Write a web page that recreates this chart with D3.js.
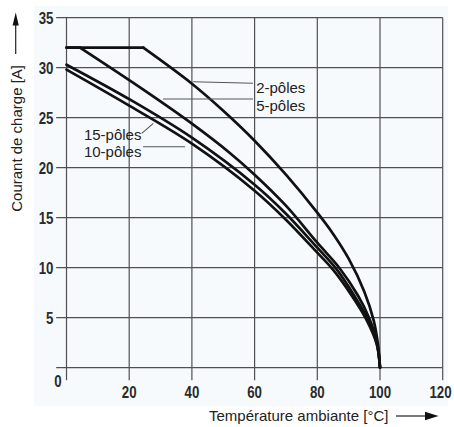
<!DOCTYPE html>
<html>
<head>
<meta charset="utf-8">
<script src="https://cdn.jsdelivr.net/npm/d3@7"></script>
<style>
  html, body { margin: 0; padding: 0; background: #ffffff; }
  svg { display: block; }
  .tick-num { font-family: "Liberation Sans", Arial, sans-serif; font-weight: bold; font-size: 17px; fill: #2a2a2a; }
  .lbl { font-family: "Liberation Sans", Arial, sans-serif; font-size: 15px; fill: #222; }
</style>
</head>
<body>
<script>
// ---- data ----
const xTicks = [20, 40, 60, 80, 100, 120];
const yTicks = [5, 10, 15, 20, 25, 30, 35];
const gridX = [0, 20, 40, 60, 80, 100, 120];
const gridY = [0, 5, 10, 15, 20, 25, 30, 35];

// flat (plateau) portions
const flat2 = [[0, 32], [24.5, 32]];
const flat5 = [[0, 32], [4.3, 32]];
// descending portions
const curve2  = [[24.5, 32], [40, 28.4], [50, 25.7], [60, 22.7], [70, 19.3], [80, 15.5], [85, 13.4], [90, 10.9], [95, 7.6], [98, 4.7], [99.4, 2.2], [100, 0]];
const curve5  = [[4.3, 32], [24.5, 27.8], [40, 24.4], [52, 21.5], [60, 19.3], [70, 16.2], [80, 12.5], [87, 10.0], [93, 7.2], [96.5, 5.0], [99, 2.6], [100, 0]];
const curve15 = [[0, 30.3], [20.3, 26.8], [40, 23.0], [60, 18.3], [70, 15.4], [80, 12.0], [86, 9.9], [92, 7.1], [96, 4.9], [99, 2.4], [100, 0]];
const curve10 = [[0, 29.8], [20, 26.2], [40, 22.4], [60, 17.7], [70, 14.8], [80, 11.5], [85, 9.8], [91, 7.2], [95.5, 4.9], [99, 2.3], [100, 0]];

const labels = ["2-pôles", "5-pôles", "15-pôles", "10-pôles"];
// leader lines (data units): [x1,y1,x2,y2]
const leaders = [
  [40.4, 28.6, 59.5, 28.45],
  [30.8, 26.87, 59.5, 26.87],
  [24.0, 23.44, 27.7, 24.44],
  [24.4, 22.1, 37.8, 22.1]
];
const labelPos = [[60.5, 28.0, "start"], [60.5, 26.2, "start"], [23.9, 23.3, "end"], [23.9, 21.6, "end"]];

// ---- layout ----
const W = 454, H = 427;
const svg = d3.select("body").append("svg").attr("width", W).attr("height", H);

const x = d3.scaleLinear().domain([0, 120]).range([66.5, 442.7]);
const y = d3.scaleLinear().domain([0, 35]).range([367.7, 17.7]);

svg.append("rect").attr("x", 34).attr("y", 6).attr("width", 414).attr("height", 400).attr("fill", "#f7fafd");

// grid
const g = svg.append("g");
g.selectAll("line.h").data(gridY).enter().append("line")
  .attr("x1", x(-3.3)).attr("x2", x(120)).attr("y1", d => y(d)).attr("y2", d => y(d))
  .attr("stroke", "#505050").attr("stroke-width", 1.2);
g.selectAll("line.v").data(gridX).enter().append("line")
  .attr("x1", d => x(d)).attr("x2", d => x(d)).attr("y1", y(35)).attr("y2", y(-1.25))
  .attr("stroke", "#505050").attr("stroke-width", 1.2);

// tick labels (condensed via horizontal scale)
const SX = 0.78;
svg.selectAll("text.yt").data(yTicks).enter().append("text").attr("class", "tick-num")
  .attr("transform", d => `translate(53.5,${y(d)}) scale(${SX},1)`).attr("dy", "0.36em").attr("text-anchor", "end")
  .text(d => d);
svg.selectAll("text.xt").data(xTicks).enter().append("text").attr("class", "tick-num")
  .attr("transform", d => `translate(${Math.min(x(d), 440.5)},397.5) scale(${SX},1)`).attr("text-anchor", "middle")
  .text(d => d);
svg.append("text").attr("class", "tick-num").attr("transform", `translate(58,387) scale(${SX},1)`).attr("text-anchor", "middle").text("0");

// axis titles
svg.append("text").attr("class", "lbl").attr("x", 209).attr("y", 421).text("Température ambiante [°C]");
svg.append("line").attr("x1", 396).attr("x2", 428).attr("y1", 416).attr("y2", 416).attr("stroke", "#222").attr("stroke-width", 1.2);
svg.append("path").attr("d", "M425,411.8 L438.5,416 L425,420.2 Z").attr("fill", "#111");

svg.append("text").attr("class", "lbl").attr("transform", "translate(21.5,65) rotate(-90)")
  .attr("text-anchor", "end").text("Courant de charge [A]");
svg.append("line").attr("x1", 15.7).attr("x2", 15.7).attr("y1", 54).attr("y2", 22).attr("stroke", "#222").attr("stroke-width", 1.2);
svg.append("path").attr("d", "M12.6,25.5 L15.7,12.5 L18.8,25.5 Z").attr("fill", "#111");

// curves
const lineLin = d3.line().x(d => x(d[0])).y(d => y(d[1]));
const lineCurve = d3.line().x(d => x(d[0])).y(d => y(d[1])).curve(d3.curveCatmullRom.alpha(0.5));
const cg = svg.append("g").attr("fill", "none").attr("stroke", "#111").attr("stroke-width", 2.7)
  .attr("stroke-linejoin", "round").attr("stroke-linecap", "round");
[flat2, flat5].forEach(s => cg.append("path").attr("d", lineLin(s)));
[curve2, curve5, curve15, curve10].forEach(s => cg.append("path").attr("d", lineCurve(s)));

// leaders
svg.selectAll("line.ld").data(leaders).enter().append("line")
  .attr("x1", d => x(d[0])).attr("y1", d => y(d[1])).attr("x2", d => x(d[2])).attr("y2", d => y(d[3]))
  .attr("stroke", "#555").attr("stroke-width", 1.1);

// labels
svg.selectAll("text.cl").data(labels).enter().append("text").attr("class", "lbl")
  .attr("x", (d, i) => x(labelPos[i][0])).attr("y", (d, i) => y(labelPos[i][1]))
  .attr("dy", "0.36em").attr("text-anchor", (d, i) => labelPos[i][2]).text(d => d);
</script>
</body>
</html>
